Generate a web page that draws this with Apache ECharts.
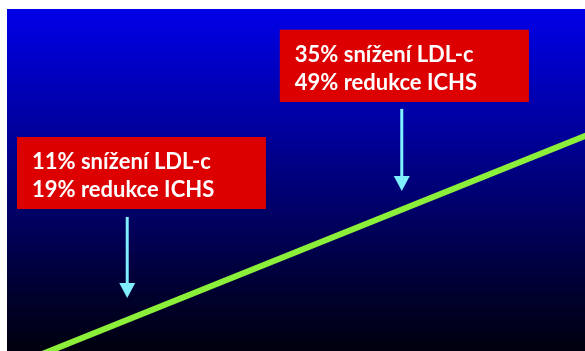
<!DOCTYPE html>
<html>
<head>
<meta charset="utf-8">
<script src="https://cdn.jsdelivr.net/npm/echarts@6/dist/echarts.min.js"></script>
<style>
  html, body { margin: 0; padding: 0; background: #ffffff; }
  #chart { width: 585px; height: 351px; }
</style>
</head>
<body>
<div id="chart"></div>
<script>
// Trend line: LDL-c lowering vs. coronary risk (abstract 0–100 scale)
const lineX = [1.5, 104];
const lineY = [-4, 65.6];

// Arrows: x position, start height, tip height
const arrowX = [20.8, 68.3];
const arrowFrom = [39.2, 70.8];
const arrowTo = [15.5, 46.8];

// Callout boxes: corners in axis units and their two text lines
const boxLeft = [1.73, 47.2];
const boxRight = [44.8, 90.3];
const boxTop = [62.6, 93.9];
const boxBottom = [41.5, 72.8];
const boxLine1 = ['11% snížení LDL-c', '35% snížení LDL-c'];
const boxLine2 = ['19% redukce ICHS', '49% redukce ICHS'];

const chart = echarts.init(document.getElementById('chart'), null, { renderer: 'canvas' });

const arrowData = arrowX.map((x, i) => [x, arrowFrom[i], arrowTo[i]]);
const boxData = boxLeft.map((l, i) => [l, boxTop[i], boxRight[i], boxBottom[i], i]);

chart.setOption({
  backgroundColor: '#ffffff',
  animation: false,
  grid: {
    left: 7, top: 9, right: 0, bottom: 0,
    show: true,
    borderWidth: 0,
    backgroundColor: new echarts.graphic.LinearGradient(0, 0, 0, 1, [
      { offset: 0, color: 'rgb(0,0,232)' },
      { offset: 0.3, color: 'rgb(0,0,168)' },
      { offset: 0.55, color: 'rgb(0,0,112)' },
      { offset: 0.78, color: 'rgb(0,0,58)' },
      { offset: 1, color: 'rgb(0,0,14)' }
    ])
  },
  xAxis: { type: 'value', min: 0, max: 100, show: false },
  yAxis: { type: 'value', min: 0, max: 100, show: false },
  series: [
    {
      type: 'line',
      data: lineX.map((x, i) => [x, lineY[i]]),
      symbol: 'none',
      clip: true,
      lineStyle: { color: '#8cf03a', width: 6, cap: 'butt' },
      z: 2
    },
    {
      type: 'custom',
      data: arrowData,
      clip: false,
      renderItem: function (params, api) {
        const p0 = api.coord([api.value(0), api.value(1)]);
        const p1 = api.coord([api.value(0), api.value(2)]);
        const head = 15, half = 8;
        return {
          type: 'group',
          children: [
            {
              type: 'line',
              shape: { x1: p0[0], y1: p0[1], x2: p1[0], y2: p1[1] - head + 1 },
              style: { stroke: '#7fefff', lineWidth: 3 }
            },
            {
              type: 'polygon',
              shape: { points: [[p1[0] - half, p1[1] - head], [p1[0] + half, p1[1] - head], [p1[0], p1[1]]] },
              style: { fill: '#7fefff' }
            }
          ]
        };
      },
      z: 3
    },
    {
      type: 'custom',
      data: boxData,
      clip: false,
      renderItem: function (params, api) {
        const tl = api.coord([api.value(0), api.value(1)]);
        const br = api.coord([api.value(2), api.value(3)]);
        const idx = api.value(4);
        const w = br[0] - tl[0], h = br[1] - tl[1];
        return {
          type: 'group',
          children: [
            {
              type: 'rect',
              shape: { x: tl[0], y: tl[1], width: w, height: h },
              style: { fill: '#dd0000' }
            },
            {
              type: 'text',
              x: tl[0] + 15,
              y: tl[1] + h / 2 + 3,
              style: {
                text: boxLine1[idx] + '\n' + boxLine2[idx],
                fill: '#ffffff',
                font: 'bold 22px Lato',
                lineHeight: 28,
                align: 'left',
                verticalAlign: 'middle'
              }
            }
          ]
        };
      },
      z: 4
    }
  ]
});
</script>
</body>
</html>
